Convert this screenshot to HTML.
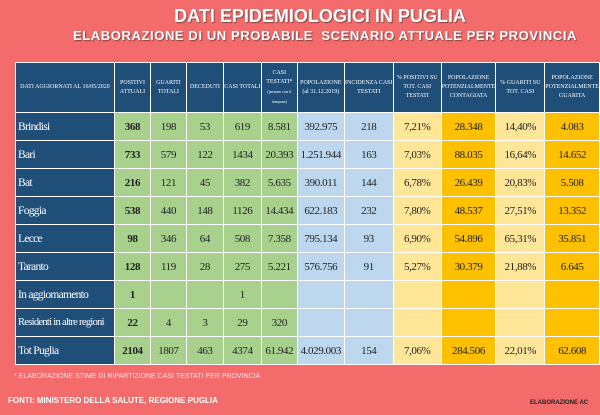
<!DOCTYPE html>
<html><head><style>
body{margin:0;width:600px;height:415px;background:#f46b6b;font-family:"Liberation Sans Narrow","Liberation Sans",sans-serif;position:relative;overflow:hidden}
.t1{position:absolute;top:6px;left:0;width:640px;text-align:center;color:#fff;font:bold 18px "Liberation Sans",sans-serif;text-shadow:1px 1px 1px #844}
.t2{position:absolute;top:28px;left:73px;width:520px;color:#fff;font:bold 13px "Liberation Sans",sans-serif;white-space:nowrap;text-shadow:1px 1px 1px #844;letter-spacing:0.6px}
table{position:absolute;left:15px;top:62px;border-collapse:collapse;table-layout:fixed;font-family:"Liberation Serif",serif}
td{border:1px solid #fff;text-align:center;padding:0;font-size:11px;color:#222;overflow:hidden;white-space:nowrap;letter-spacing:-0.4px}
tr.h td{background:#1f4e79;color:#fff;font-size:6px;height:49px;line-height:9px;white-space:normal;letter-spacing:0}
tr.r td{height:27px}
td.n{background:#1f4e79;color:#fff;text-align:left;padding-left:2px;font-size:11.5px;letter-spacing:-0.7px}
.g{background:#a9d18e}.b{background:#bdd7ee}.y{background:#ffe699}.o{background:#ffc000}
b{font-weight:bold}
.f1{position:absolute;top:373px;left:14px;color:#fde;font-size:7px;font-family:"Liberation Sans",sans-serif}
.f2{position:absolute;top:396px;left:8px;color:#fff;font:bold 8px "Liberation Sans",sans-serif}
.f3{position:absolute;top:400px;left:530px;color:#222;font:bold 6px "Liberation Sans",sans-serif}
</style></head><body>
<div class="t1">DATI EPIDEMIOLOGICI IN PUGLIA</div>
<div class="t2">ELABORAZIONE DI UN PROBABILE &nbsp;SCENARIO ATTUALE PER PROVINCIA</div>
<table>
<colgroup><col style="width:99px"><col style="width:36px"><col style="width:36px"><col style="width:37px"><col style="width:38px"><col style="width:36px"><col style="width:47px"><col style="width:49px"><col style="width:48px"><col style="width:48px"><col style="width:49px"><col style="width:48px"></colgroup>
<tr class="h"><td>DATI AGGIORNATI AL 16/05/2020</td><td>POSITIVI ATTUALI</td><td>GUARITI TOTALI</td><td>DECEDUTI</td><td>CASI TOTALI</td><td>CASI TESTATI*<br><span style="font-size:4px">(persone con il tampone)</span></td><td>POPOLAZIONE<br>(al 31.12.2019)</td><td>INCIDENZA CASI TESTATI</td><td>% POSITIVI SU TOT. CASI TESTATI</td><td>POPOLAZIONE POTENZIALMENTE CONTAGIATA</td><td>% GUARITI SU TOT. CASI</td><td>POPOLAZIONE POTENZIALMENTE GUARITA</td></tr>
<tr class="r"><td class="n">Brindisi</td><td class="g"><b>368</b></td><td class="g">198</td><td class="g">53</td><td class="g">619</td><td class="g">8.581</td><td class="b">392.975</td><td class="b">218</td><td class="y">7,21%</td><td class="o">28.348</td><td class="y">14,40%</td><td class="o">4.083</td></tr>
<tr class="r"><td class="n">Bari</td><td class="g"><b>733</b></td><td class="g">579</td><td class="g">122</td><td class="g">1434</td><td class="g">20.393</td><td class="b">1.251.944</td><td class="b">163</td><td class="y">7,03%</td><td class="o">88.035</td><td class="y">16,64%</td><td class="o">14.652</td></tr>
<tr class="r"><td class="n">Bat</td><td class="g"><b>216</b></td><td class="g">121</td><td class="g">45</td><td class="g">382</td><td class="g">5.635</td><td class="b">390.011</td><td class="b">144</td><td class="y">6,78%</td><td class="o">26.439</td><td class="y">20,83%</td><td class="o">5.508</td></tr>
<tr class="r"><td class="n">Foggia</td><td class="g"><b>538</b></td><td class="g">440</td><td class="g">148</td><td class="g">1126</td><td class="g">14.434</td><td class="b">622.183</td><td class="b">232</td><td class="y">7,80%</td><td class="o">48.537</td><td class="y">27,51%</td><td class="o">13.352</td></tr>
<tr class="r"><td class="n">Lecce</td><td class="g"><b>98</b></td><td class="g">346</td><td class="g">64</td><td class="g">508</td><td class="g">7.358</td><td class="b">795.134</td><td class="b">93</td><td class="y">6,90%</td><td class="o">54.896</td><td class="y">65,31%</td><td class="o">35.851</td></tr>
<tr class="r"><td class="n">Taranto</td><td class="g"><b>128</b></td><td class="g">119</td><td class="g">28</td><td class="g">275</td><td class="g">5.221</td><td class="b">576.756</td><td class="b">91</td><td class="y">5,27%</td><td class="o">30.379</td><td class="y">21,88%</td><td class="o">6.645</td></tr>
<tr class="r"><td class="n">In aggiornamento</td><td class="g"><b>1</b></td><td class="g"></td><td class="g"></td><td class="g">1</td><td class="g"></td><td class="b"></td><td class="b"></td><td class="y"></td><td class="o"></td><td class="y"></td><td class="o"></td></tr>
<tr class="r"><td class="n" style="font-size:10.5px">Residenti in altre regioni</td><td class="g"><b>22</b></td><td class="g">4</td><td class="g">3</td><td class="g">29</td><td class="g">320</td><td class="b"></td><td class="b"></td><td class="y"></td><td class="o"></td><td class="y"></td><td class="o"></td></tr>
<tr class="r"><td class="n">Tot Puglia</td><td class="g"><b>2104</b></td><td class="g">1807</td><td class="g">463</td><td class="g">4374</td><td class="g">61.942</td><td class="b">4.029.003</td><td class="b">154</td><td class="y">7,06%</td><td class="o">284.506</td><td class="y">22,01%</td><td class="o">62.608</td></tr>
</table>
<div class="f1">* ELABORAZIONE STIME DI RIPARTIZIONE CASI TESTATI PER PROVINCIA</div>
<div class="f2">FONTI: MINISTERO DELLA SALUTE, REGIONE PUGLIA</div>
<div class="f3">ELABORAZIONE AC</div>
</body></html>
